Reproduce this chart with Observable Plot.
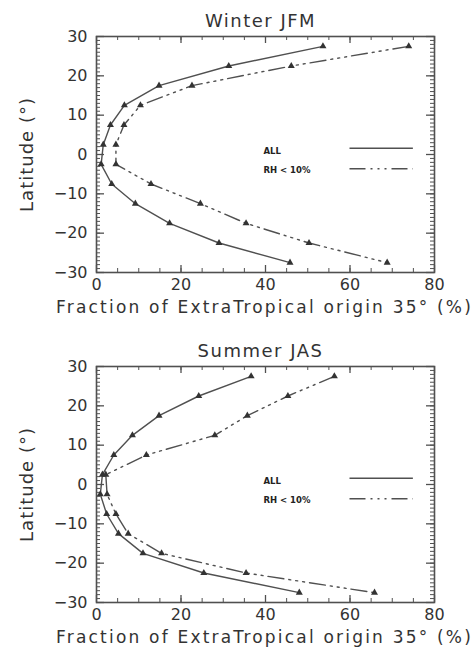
<!DOCTYPE html>
<html>
<head>
<meta charset="utf-8">
<script src="https://cdn.jsdelivr.net/npm/d3@7"></script>
<script src="https://cdn.jsdelivr.net/npm/@observablehq/plot@0.6"></script>
<style>
  body { margin: 0; background: #fff; }
  #chart { width: 475px; }
  #chart svg { display: block; }
</style>
</head>
<body>
<div id="chart"></div>
<script>
// Latitude bins (degrees)
const latitudes = [27.5, 22.5, 17.5, 12.5, 7.5, 2.5, -2.5, -7.5, -12.5, -17.5, -22.5, -27.5];

// Fraction of ExtraTropical origin (%)
const winterAll = [53.6, 31.3, 14.8, 6.6, 3.3, 1.6, 1.1, 3.6, 9.2, 17.3, 29.0, 45.8];
const winterRH  = [73.9, 46.1, 22.6, 10.4, 6.5, 4.6, 4.6, 12.9, 24.6, 35.4, 50.3, 68.8];
const summerAll = [36.6, 24.2, 14.8, 8.5, 4.1, 1.4, 0.9, 2.4, 5.2, 11.0, 25.4, 48.0];
const summerRH  = [56.3, 45.3, 35.7, 28.0, 11.8, 2.2, 2.5, 4.6, 7.5, 15.4, 35.4, 65.8];

const panelTitles = ["Winter JFM", "Summer JAS"];
const seriesNames = ["ALL", "RH < 10%"];
const xTicks = [0, 20, 40, 60, 80];
const yTicks = [-30, -20, -10, 0, 10, 20, 30];
const xLabel = "Fraction of ExtraTropical origin 35° (%)";
const yLabel = "Latitude (°)";

const W = 475, H = 330;
const mT = 36, mB = 58, mL = 96, mR = 41;
const frameW = W - mL - mR, frameH = H - mT - mB;
const ink = "#505050";
const dashRH = "16,5,2,5,2,5,2,5";

function panel(title, allVals, rhVals) {
  const rows = [];
  latitudes.forEach((lat, i) => {
    rows.push({series: seriesNames[0], lat, v: allVals[i]});
    rows.push({series: seriesNames[1], lat, v: rhVals[i]});
  });
  const allRows = rows.filter(d => d.series === seriesNames[0]);
  const rhRows = rows.filter(d => d.series === seriesNames[1]);
  const xMinor = d3.range(0, 81, 5);
  const yMinor = d3.range(-30, 31, 1);
  // legend entries in data space (placement inside the frame)
  const legendAll = [{name: seriesNames[0], ty: 0.8, ly: 1.6}];
  const legendRH = [{name: seriesNames[1], ty: -4.1, ly: -3.6}];
  return Plot.plot({
    width: W, height: H,
    marginTop: mT, marginBottom: mB, marginLeft: mL, marginRight: mR,
    style: {fontFamily: "DejaVu Sans, sans-serif", fontSize: "16px", color: "#333", background: "#fff"},
    x: {domain: [0, 80], axis: null},
    y: {domain: [-30, 30], axis: null},
    marks: [
      Plot.axisX({ticks: xTicks, tickSize: 0, tickPadding: 6, label: null, tickFormat: d3.format("d"), fill: "#333"}),
      Plot.axisY({ticks: yTicks, tickSize: 0, tickPadding: 9, label: null, tickFormat: d3.format("d"), fill: "#333"}),
      // inward minor/major ticks on all four sides
      Plot.tickX(xMinor, {x: d => d, insetTop: frameH - 4, stroke: ink}),
      Plot.tickX(xMinor, {x: d => d, insetBottom: frameH - 4, stroke: ink}),
      Plot.tickX(xTicks, {x: d => d, insetTop: frameH - 7, stroke: ink, strokeWidth: 1.3}),
      Plot.tickX(xTicks, {x: d => d, insetBottom: frameH - 7, stroke: ink, strokeWidth: 1.3}),
      Plot.tickY(yMinor, {y: d => d, insetRight: frameW - 4, stroke: ink}),
      Plot.tickY(yMinor, {y: d => d, insetLeft: frameW - 4, stroke: ink}),
      Plot.tickY(yTicks, {y: d => d, insetRight: frameW - 8, stroke: ink, strokeWidth: 1.3}),
      Plot.tickY(yTicks, {y: d => d, insetLeft: frameW - 8, stroke: ink, strokeWidth: 1.3}),
      Plot.frame({stroke: ink, strokeWidth: 1.6}),
      Plot.line(allRows, {x: "v", y: "lat", stroke: ink, strokeWidth: 1.4}),
      Plot.line(rhRows, {x: "v", y: "lat", stroke: ink, strokeWidth: 1.4, strokeDasharray: dashRH}),
      Plot.dot(rows, {x: "v", y: "lat", symbol: "triangle", r: 2.6, fill: "#333", stroke: "none"}),
      // legend
      Plot.text([...legendAll, ...legendRH], {x: 39.5, y: "ty", text: "name", textAnchor: "start", fontSize: 8.5, fontWeight: "bold", fill: "#222"}),
      Plot.ruleY(legendAll, {y: "ly", x1: 60, x2: 75, stroke: ink, strokeWidth: 1.5}),
      Plot.ruleY(legendRH, {y: "ly", x1: 60, x2: 75, stroke: ink, strokeWidth: 1.5, strokeDasharray: dashRH}),
      // title and axis labels
      Plot.text([title], {frameAnchor: "top", dy: -22, dx: -5, text: d => d, fontSize: 18, fill: "#333"}),
      Plot.text([xLabel], {frameAnchor: "bottom", dy: 40, dx: -1, text: d => d, fontSize: 17, fill: "#333"}),
      Plot.text([yLabel], {frameAnchor: "left", dx: -69, rotate: -90, textAnchor: "middle", text: d => d, fontSize: 18, fill: "#333"})
    ]
  });
}

const chart = document.getElementById("chart");
chart.append(panel(panelTitles[0], winterAll, winterRH));
chart.append(panel(panelTitles[1], summerAll, summerRH));

// widen letter spacing to mimic the original vector font
for (const t of chart.querySelectorAll("text")) {
  if (t.textContent === xLabel) t.setAttribute("letter-spacing", "2.2");
  if (t.textContent === yLabel) t.setAttribute("letter-spacing", "1");
  if (panelTitles.includes(t.textContent)) t.setAttribute("letter-spacing", "1.5");
}
</script>
</body>
</html>
